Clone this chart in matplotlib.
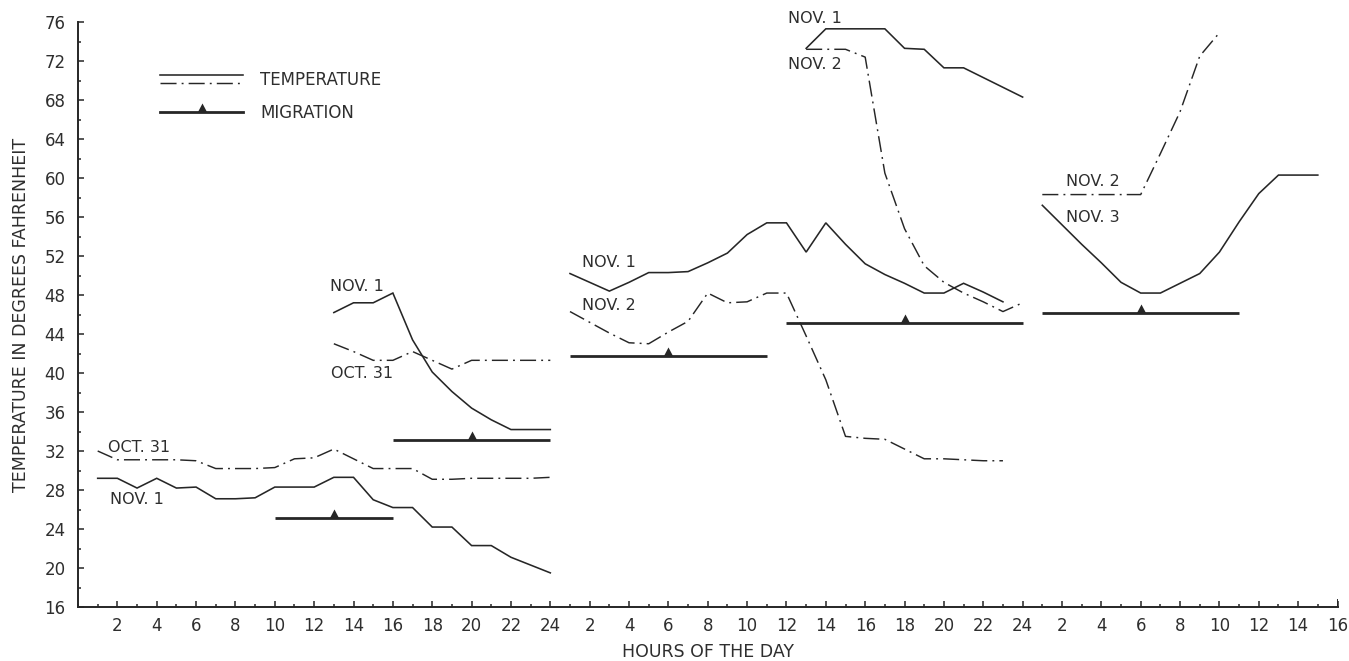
"""Hourly temperature curves with migration bars (three-day hour axis)."""
import matplotlib

matplotlib.use("Agg")
import matplotlib.pyplot as plt
from matplotlib.legend_handler import HandlerBase
from matplotlib.lines import Line2D
from matplotlib.ticker import MultipleLocator

# ---- data (hour of day, degrees F); day index 0/1/2 shifts by 24 h ----
hrs_a = list(range(1, 25))
oct31_a = [32.0, 31.1, 31.1, 31.1, 31.1, 31.0, 30.2, 30.2, 30.2, 30.3, 31.2, 31.3,
           32.2, 31.2, 30.2, 30.2, 30.2, 29.1, 29.1, 29.2, 29.2, 29.2, 29.2, 29.3]
nov1_a = [29.2, 29.2, 28.2, 29.2, 28.2, 28.3, 27.1, 27.1, 27.2, 28.3, 28.3, 28.3,
          29.3, 29.3, 27.0, 26.2, 26.2, 24.2, 24.2, 22.3, 22.3, 21.1, 20.3, 19.5]

hrs_b = list(range(13, 25))
nov1_b = [46.2, 47.2, 47.2, 48.2, 43.4, 40.1, 38.1, 36.4, 35.2, 34.2, 34.2, 34.2]
oct31_b = [43.0, 42.2, 41.3, 41.3, 42.2, 41.3, 40.4, 41.3, 41.3, 41.3, 41.3, 41.3]

hrs_c = list(range(1, 24))
nov1_c = [50.2, 49.3, 48.4, 49.3, 50.3, 50.3, 50.4, 51.3, 52.3, 54.2, 55.4, 55.4,
          52.4, 55.4, 53.2, 51.2, 50.1, 49.2, 48.2, 48.2, 49.2, 48.3, 47.3]
nov2_c = [46.3, 45.2, 44.1, 43.1, 43.0, 44.2, 45.3, 48.2, 47.2, 47.3, 48.2, 48.2,
          43.8, 39.3, 33.5, 33.3, 33.2, 32.2, 31.2, 31.2, 31.1, 31.0, 31.0]

hrs_d = list(range(13, 25))
nov1_d = [73.3, 75.3, 75.3, 75.3, 75.3, 73.3, 73.2, 71.3, 71.3, 70.3, 69.3, 68.3]
nov2_d = [73.2, 73.2, 73.2, 72.4, 60.5, 54.8, 51.0, 49.3, 48.2, 47.3, 46.3, 47.2]

hrs_e = list(range(1, 16))
nov3_e = [57.2, 55.2, 53.2, 51.3, 49.3, 48.2, 48.2, 49.2, 50.2, 52.4, 55.5, 58.4,
          60.3, 60.3, 60.3]
hrs_e2 = list(range(1, 11))
nov2_e = [58.3, 58.3, 58.3, 58.3, 58.3, 58.3, 62.5, 66.8, 72.5, 74.9]

# migration bars: day, from hour, to hour, level, hour of peak
mig_day = [0, 0, 1, 1, 2]
mig_from = [10, 16, 1, 12, 1]
mig_to = [16, 24, 11, 24, 11]
mig_level = [25.1, 33.1, 41.7, 45.1, 46.2]
mig_peak = [13, 20, 6, 18, 6]

# curve labels: text, day, hour, temp
lab_text = ["OCT. 31", "NOV. 1", "NOV. 1", "OCT. 31", "NOV. 1", "NOV. 2",
            "NOV. 1", "NOV. 2", "NOV. 2", "NOV. 3"]
lab_day = [0, 0, 0, 0, 1, 1, 1, 1, 2, 2]
lab_hour = [1.5, 1.65, 12.8, 12.85, 1.6, 1.6, 12.1, 12.1, 2.2, 2.2]
lab_temp = [32.4, 27.0, 48.9, 40.0, 51.3, 46.9, 76.4, 71.6, 59.6, 56.0]

INK = "#262626"
TXT = "#2e2e2e"
SOLID = dict(color=INK, lw=1.15, solid_joinstyle="miter")
DASHDOT = dict(color=INK, lw=1.05, linestyle=(0, (11, 3.5, 1.3, 3.5)))
TRI = [(-1, 0), (1, 0), (0, 1.9), (-1, 0)]
plt.rcParams.update({"font.family": "DejaVu Sans", "font.size": 11.5})


def g(day, hours):
    return [24 * day + h for h in hours]


fig = plt.figure(figsize=(13.49, 6.61), dpi=100)
ax = fig.add_axes([78 / 1349, 54 / 661, 1259.5 / 1349, 585 / 661])

ax.plot(g(0, hrs_a), oct31_a, **DASHDOT)
ax.plot(g(0, hrs_a), nov1_a, **SOLID)
ax.plot(g(0, hrs_b), nov1_b, **SOLID)
ax.plot(g(0, hrs_b), oct31_b, **DASHDOT)
ax.plot(g(1, hrs_c), nov1_c, **SOLID)
ax.plot(g(1, hrs_c), nov2_c, **DASHDOT)
ax.plot(g(1, hrs_d), nov1_d, **SOLID)
ax.plot(g(1, hrs_d), nov2_d, **DASHDOT)
ax.plot(g(2, hrs_e), nov3_e, **SOLID)
ax.plot(g(2, hrs_e2), nov2_e, **DASHDOT)

for d, a, b, lvl, pk in zip(mig_day, mig_from, mig_to, mig_level, mig_peak):
    ax.plot([24 * d + a, 24 * d + b], [lvl, lvl], color=INK, lw=2.0,
            solid_capstyle="butt")
    ax.plot([24 * d + pk], [lvl], marker=TRI, ms=13, color=INK, mew=0)

for t, d, h, v in zip(lab_text, lab_day, lab_hour, lab_temp):
    ax.text(24 * d + h, v, t, ha="left", va="center", fontsize=11.5, color=TXT)

ax.set_xlim(0, 64)
ax.set_ylim(16, 76)
for s in ("top", "right"):
    ax.spines[s].set_visible(False)
for s in ("left", "bottom"):
    ax.spines[s].set_linewidth(1.4)
    ax.spines[s].set_color(INK)
ax.axvline(64, ymin=0, ymax=0.012, color=INK, lw=1.4)

ax.xaxis.set_major_locator(MultipleLocator(2))
ax.xaxis.set_minor_locator(MultipleLocator(1))
ax.set_xticks(range(2, 65, 2))
ax.set_xticklabels([str((h - 1) % 24 + 1) for h in range(2, 65, 2)])
ax.yaxis.set_major_locator(MultipleLocator(4))
ax.yaxis.set_minor_locator(MultipleLocator(2))
ax.tick_params(axis="both", which="major", direction="in", length=4, width=1.1,
               colors=INK, labelcolor=TXT, labelsize=12)
ax.tick_params(axis="both", which="minor", direction="in", length=2, width=1.1,
               colors=INK)
ax.tick_params(axis="y", which="major", pad=9)
ax.tick_params(axis="x", which="major", pad=7)

ax.set_xlabel("HOURS OF THE DAY", fontsize=12.5, color=TXT, labelpad=6)
ax.set_ylabel("TEMPERATURE IN DEGREES FAHRENHEIT", fontsize=12.5, color=TXT,
              labelpad=10)


class TwoLines(HandlerBase):
    def create_artists(self, legend, orig, xd, yd, w, h, fs, trans):
        top = Line2D([-xd, w - xd], [h * 0.85 - yd] * 2, **SOLID)
        bot = Line2D([-xd, w - xd], [h * 0.15 - yd] * 2, **DASHDOT)
        top.set_transform(trans)
        bot.set_transform(trans)
        return [top, bot]


temp_handle = Line2D([], [], **SOLID)
mig_handle = Line2D([], [], color=INK, lw=2.0, marker=TRI, ms=13, mew=0)
ax.legend([temp_handle, mig_handle], ["TEMPERATURE", "MIGRATION"],
          handler_map={temp_handle: TwoLines()}, numpoints=1,
          loc="upper left", bbox_to_anchor=(160 / 1349, 1 - 71 / 661),
          bbox_transform=fig.transFigure, frameon=False, fontsize=12,
          handlelength=5.0, handletextpad=1.0, labelspacing=0.9,
          borderpad=0, borderaxespad=0, labelcolor=TXT)

fig.savefig("out.png", dpi=100)
